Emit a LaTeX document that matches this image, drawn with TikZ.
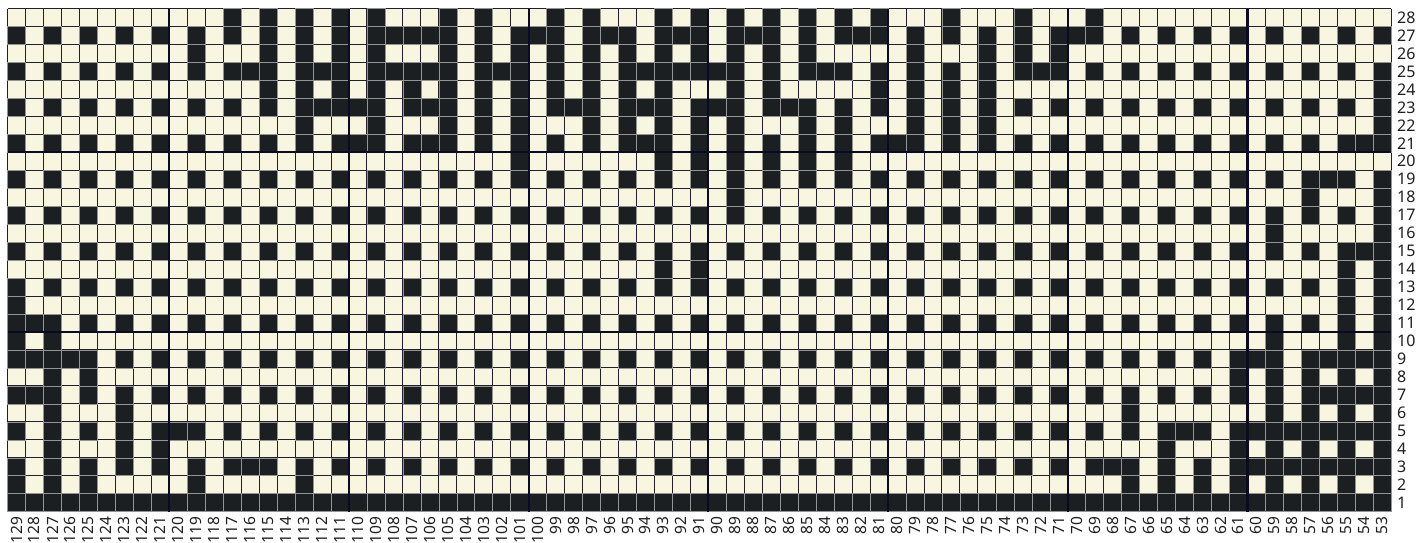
\documentclass[tikz,border=0pt]{standalone}
\usepackage{fontspec}
\setmainfont{Noto Sans}
\definecolor{cream}{RGB}{248,246,224}
\definecolor{cellblk}{RGB}{27,31,34}
\definecolor{gridc}{RGB}{32,32,44}
\definecolor{sepc}{RGB}{150,148,146}
\definecolor{thickc}{RGB}{10,10,35}
\newcount\kcnt
\def\CS{17.97}
\def\rowbits#1#2{\def\currow{#1}\kcnt=0 \rowbitsloop#2\relax}
\def\rowbitsloop#1{\ifx#1\relax\else\ifnum#1=1 \path[blkcell] ({7.5+\the\kcnt*\CS},{-(8.5+(28-\currow)*\CS)}) rectangle ++(\CS,-\CS);\fi\advance\kcnt by 1 \expandafter\rowbitsloop\fi}
\tikzset{
  blkcell/.style={fill=cellblk, draw=sepc, line width=0.5pt},
  gridline/.style={draw=gridc, line width=0.9pt},
  thickline/.style={draw=thickc, line width=2.2pt},
  rowlab/.style={anchor=west, inner sep=0pt, text=black!88, font=\fontsize{16}{16}\selectfont},
  collab/.style={anchor=east, inner sep=0pt, text=black!88, rotate=90, font=\fontsize{15.5}{15.5}\selectfont}
}
\begin{document}
\begin{tikzpicture}[x=1pt,y=1pt]
\useasboundingbox[fill=white] (0,0) rectangle (1425,-542);
% background
\fill[cream] (7.5,-8.5) rectangle ({7.5+77*\CS},{-(8.5+28*\CS)});
% thin grid
\foreach \i in {0,...,77} \path[gridline] ({7.5+\i*\CS},-8.5) -- ({7.5+\i*\CS},{-(8.5+28*\CS)});
\foreach \j in {0,...,28} \path[gridline] (7.5,{-(8.5+\j*\CS)}) -- ({7.5+77*\CS},{-(8.5+\j*\CS)});
% cells: columns 129 (left) ... 53 (right)
\rowbits{28}{0000000000 0010101010 1000101000 1010001010 1010101010 0010001000 1000000000 0000000}
\rowbits{27}{1010101010 1010101010 1111101011 1011101110 1110101110 1010101011 1010101010 1010101}
\rowbits{26}{0000000000 1000101010 1000101010 1010101010 1010100000 1000101010 0000000000 0000000}
\rowbits{25}{1010101010 1011101110 1111101110 1010111111 1010111010 1010101110 1010101010 1010101}
\rowbits{24}{0000000000 0000101010 1010101010 1010101000 1010000010 1010100000 0000000000 0000001}
\rowbits{23}{1010101010 1010101111 1011101010 1110111011 1011101010 1010101010 1010101010 1010101}
\rowbits{22}{0000000000 0000001000 1000101010 0010101010 1000101000 1010100000 0000000000 0000001}
\rowbits{21}{1010101010 1010101011 1011101010 1010111010 1010101011 1010101010 1010101010 1010111}
\rowbits{20}{0000000000 0000000000 0000000010 0000001010 1010101000 0000000000 0000000000 0000000}
\rowbits{19}{1010101010 1010101010 1010101010 1010101010 1010101010 1010101010 1010101010 1011101}
\rowbits{18}{0000000000 0000000000 0000000000 0000000000 1000000000 0000000000 0000000000 0010001}
\rowbits{17}{1010101010 1010101010 1010101010 1010101010 1010101010 1010101010 1010101010 1010101}
\rowbits{16}{0000000000 0000000000 0000000000 0000000000 0000000000 0000000000 0000000000 1000001}
\rowbits{15}{1010101010 1010101010 1010101010 1010101010 1010101010 1010101010 1010101010 1010111}
\rowbits{14}{0000000000 0000000000 0000000000 0000001010 0000000000 0000000000 0000000000 0000101}
\rowbits{13}{1010101010 1010101010 1010101010 1010101010 1010101010 1010101010 1010101010 1010101}
\rowbits{12}{1000000000 0000000000 0000000000 0000000000 0000000000 0000000000 0000000000 0000101}
\rowbits{11}{1110101010 1010101010 1010101010 1010101010 1010101010 1010101010 1010101010 1010101}
\rowbits{10}{1010000000 0000000000 0000000000 0000000000 0000000000 0000000000 0000000000 1000101}
\rowbits{9}{1111101010 1010101010 1010101010 1010101010 1010101010 1010101010 1010101011 1011111}
\rowbits{8}{0010100000 0000000000 0000000000 0000000000 0000000000 0000000000 0000000010 1010101}
\rowbits{7}{1110101010 1010101010 1010101010 1010101010 1010101010 1010101010 1010101010 1011111}
\rowbits{6}{0010001000 0000000000 0000000000 0000000000 0000000000 0000000000 0010000000 1010101}
\rowbits{5}{1010101011 1010101010 1010101010 1010101010 1010101010 1010101010 1010111011 1111111}
\rowbits{4}{0010001010 0000000000 0000000000 0000000000 0000000000 0000000000 0000100010 1010101}
\rowbits{3}{1010101010 1011101010 1010101010 1010101010 1010101010 1010101010 1110101011 1111111}
\rowbits{2}{1010100000 1000001000 0000000000 0000000000 0000000000 0000000000 0010101010 1010101}
\rowbits{1}{1111111111 1111111111 1111111111 1111111111 1111111111 1111111111 1111111111 1111111}
% thick lines
\foreach \i in {9,19,29,39,49,59,69} \path[thickline] ({7.5+\i*\CS},-8.5) -- ({7.5+\i*\CS},{-(8.5+28*\CS)});
\foreach \j in {8,18} \path[thickline] (7.5,{-(8.5+\j*\CS)}) -- ({7.5+77*\CS},{-(8.5+\j*\CS)});
% labels
\foreach \n in {1,...,28} \node[rowlab] (r\n) at (1397,{-(8.5+(28-\n+0.5)*\CS)}) {\n};
\foreach \k in {0,...,76} {\pgfmathtruncatemacro\s{129-\k}\node[collab] (c\k) at ({7.5+(\k+0.5)*\CS},-516.5) {\s};}
\end{tikzpicture}
\end{document}
